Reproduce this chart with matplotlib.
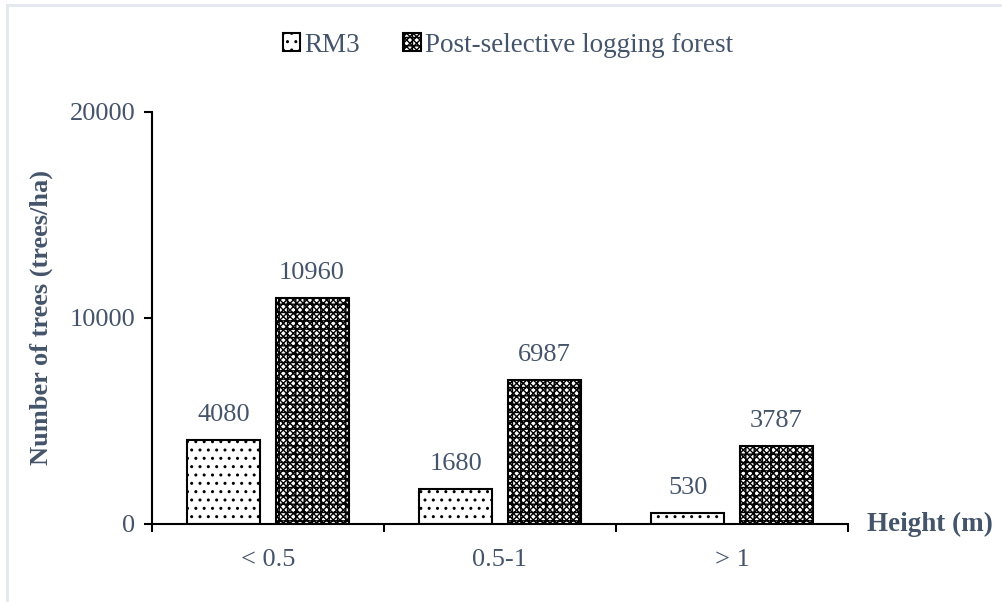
import numpy as np
import matplotlib.pyplot as plt
import matplotlib

matplotlib.rcParams['font.family'] = ['Liberation Serif', 'DejaVu Serif']
matplotlib.rcParams['hatch.linewidth'] = 1.0

txt = '#44546A'

heights = ['< 0.5', '0.5-1', '> 1']
rm3 = [4080, 1680, 530]
post_logging = [10960, 6987, 3787]
yticks = [0, 10000, 20000]

fig = plt.figure(figsize=(10.02, 6.02), dpi=100)
ax = fig.add_axes([0.1517, 0.1296, 0.6946, 0.6844])

x = np.arange(len(heights))
w = 0.315
off = 0.19

b1 = ax.bar(x - off, rm3, w, facecolor='white', edgecolor='black',
            linewidth=1.5, hatch='..', label='RM3')
b2 = ax.bar(x + off, post_logging, w, facecolor='white', edgecolor='black',
            linewidth=1.5, hatch='xxxxx++', label='Post-selective logging forest')

for bars, vals in [(b1, rm3), (b2, post_logging)]:
    for r, v in zip(bars, vals):
        ax.annotate(str(v), (r.get_x() + r.get_width() / 2, v),
                    xytext=(0, 18), textcoords='offset points',
                    ha='center', va='center', fontsize=19, color=txt)

ax.set_xlim(-0.5, 2.5)
ax.set_ylim(0, 20000)
ax.set_yticks(yticks)
ax.set_yticklabels([str(t) for t in yticks])
ax.set_xticks([-0.5, 0.5, 1.5, 2.5])
ax.set_xticklabels([])
ax.set_xticks(x, minor=True)
ax.set_xticklabels(heights, minor=True)
ax.tick_params(axis='x', which='minor', length=0, pad=18, labelsize=19, labelcolor=txt)
ax.tick_params(axis='x', which='major', length=6, width=1.5, direction='out')
ax.tick_params(axis='y', length=6, width=1.5, labelsize=19, labelcolor=txt, pad=6)

for s in ['top', 'right']:
    ax.spines[s].set_visible(False)
for s in ['left', 'bottom']:
    ax.spines[s].set_linewidth(1.5)

ax.set_ylabel('Number of trees (trees/ha)', fontsize=19, fontweight='bold',
              color=txt, labelpad=12)
ax.text(1.028, 0, 'Height (m)', transform=ax.transAxes, fontsize=19.5,
        fontweight='bold', color=txt, ha='left', va='center')

fig.legend(handles=[b1, b2], loc='center', bbox_to_anchor=(0.507, 0.925),
           ncol=2, frameon=False, fontsize=19.5, labelcolor=txt,
           handlelength=0.65, handleheight=0.65, handletextpad=0.15,
           columnspacing=1.6)

# thin frame on the left and top edges
fig.add_artist(plt.Line2D([0.0065, 0.0065], [0, 0.992], transform=fig.transFigure,
                          color='#E4E7EE', linewidth=2))
fig.add_artist(plt.Line2D([0.0065, 1], [0.992, 0.992], transform=fig.transFigure,
                          color='#E4E7EE', linewidth=2))

fig.savefig('out.png', dpi=100)
